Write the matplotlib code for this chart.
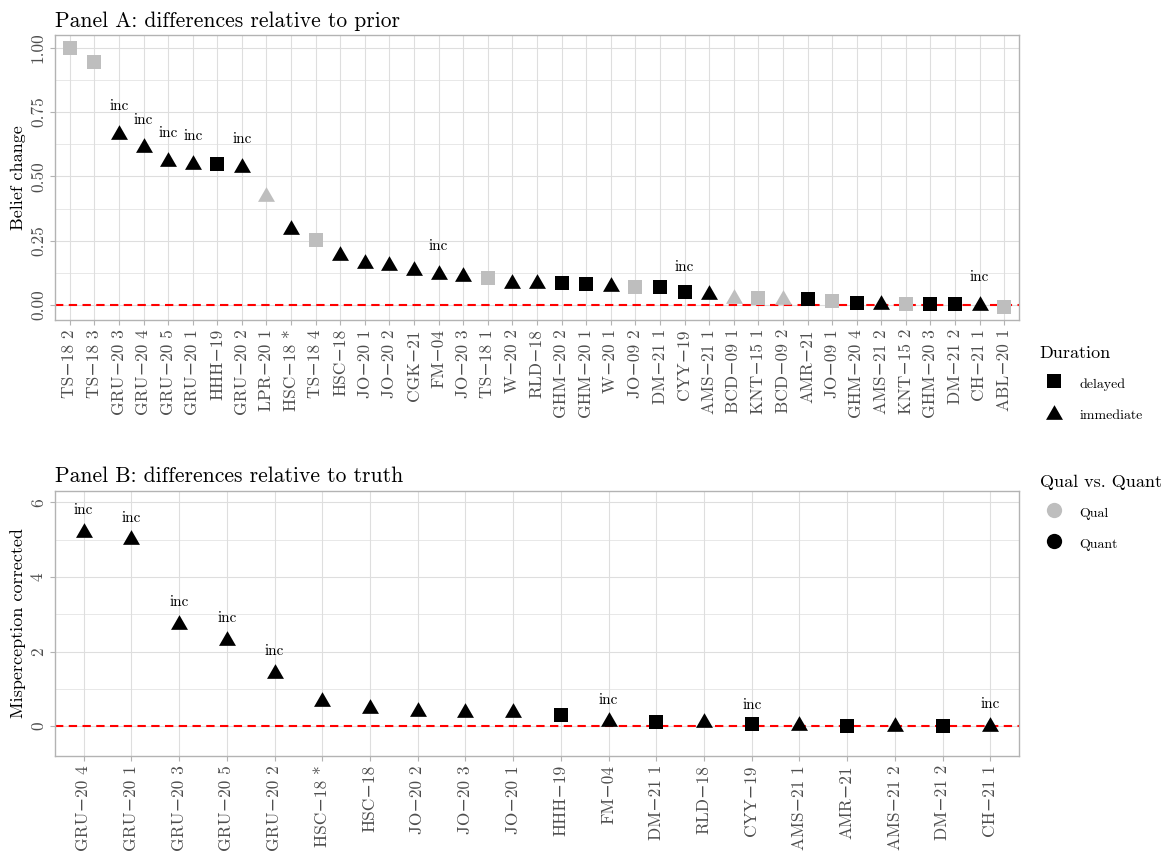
import matplotlib
matplotlib.use("Agg")
import matplotlib.pyplot as plt
from matplotlib.lines import Line2D
from matplotlib.ticker import MultipleLocator

plt.rcParams['font.family'] = ['cmr10', 'DejaVu Serif']
plt.rcParams['axes.formatter.use_mathtext'] = True
plt.rcParams['mathtext.fontset'] = 'cm'

M = "\u2212"

# ---------------- Panel A data ----------------
a_labels = ["TS-18 2", "TS-18 3", "GRU-20 3", "GRU-20 4", "GRU-20 5", "GRU-20 1", "HHH-19",
            "GRU-20 2", "LPR-20 1", "HSC-18 *", "TS-18 4", "HSC-18", "JO-20 1", "JO-20 2",
            "CGK-21", "FM-04", "JO-20 3", "TS-18 1", "W-20 2", "RLD-18", "GHM-20 2", "GHM-20 1",
            "W-20 1", "JO-09 2", "DM-21 1", "CYY-19", "AMS-21 1", "BCD-09 1", "KNT-15 1",
            "BCD-09 2", "AMR-21", "JO-09 1", "GHM-20 4", "AMS-21 2", "KNT-15 2", "GHM-20 3",
            "DM-21 2", "CH-21 1", "ABL-20 1"]
a_values = [1.00, 0.945, 0.672, 0.620, 0.568, 0.555, 0.547, 0.545, 0.431, 0.303, 0.253, 0.201,
            0.172, 0.163, 0.145, 0.128, 0.119, 0.104, 0.093, 0.093, 0.087, 0.080, 0.080, 0.071,
            0.069, 0.049, 0.051, 0.034, 0.026, 0.031, 0.023, 0.014, 0.007, 0.013, 0.003, 0.003,
            0.003, 0.007, -0.009]
a_duration = ["delayed", "delayed", "immediate", "immediate", "immediate", "immediate", "delayed",
              "immediate", "immediate", "immediate", "delayed", "immediate", "immediate", "immediate",
              "immediate", "immediate", "immediate", "delayed", "immediate", "immediate", "delayed",
              "delayed", "immediate", "delayed", "delayed", "delayed", "immediate", "immediate",
              "delayed", "immediate", "delayed", "delayed", "delayed", "immediate", "delayed",
              "delayed", "delayed", "immediate", "delayed"]
a_type = ["Qual", "Qual", "Quant", "Quant", "Quant", "Quant", "Quant", "Quant", "Qual", "Quant",
          "Qual", "Quant", "Quant", "Quant", "Quant", "Quant", "Quant", "Qual", "Quant", "Quant",
          "Quant", "Quant", "Quant", "Qual", "Quant", "Quant", "Quant", "Qual", "Qual", "Qual",
          "Quant", "Qual", "Quant", "Quant", "Qual", "Quant", "Quant", "Quant", "Qual"]
a_inc = ["GRU-20 3", "GRU-20 4", "GRU-20 5", "GRU-20 1", "GRU-20 2", "FM-04", "CYY-19", "CH-21 1"]

# ---------------- Panel B data ----------------
b_labels = ["GRU-20 4", "GRU-20 1", "GRU-20 3", "GRU-20 5", "GRU-20 2", "HSC-18 *", "HSC-18",
            "JO-20 2", "JO-20 3", "JO-20 1", "HHH-19", "FM-04", "DM-21 1", "RLD-18", "CYY-19",
            "AMS-21 1", "AMR-21", "AMS-21 2", "DM-21 2", "CH-21 1"]
b_values = [5.26, 5.06, 2.80, 2.37, 1.49, 0.74, 0.55, 0.46, 0.42, 0.42, 0.31, 0.18, 0.10, 0.16,
            0.045, 0.09, 0.01, 0.06, 0.01, 0.06]
b_duration = ["immediate", "immediate", "immediate", "immediate", "immediate", "immediate",
              "immediate", "immediate", "immediate", "immediate", "delayed", "immediate", "delayed",
              "immediate", "delayed", "immediate", "delayed", "immediate", "delayed", "immediate"]
b_type = ["Quant"] * 20
b_inc = ["GRU-20 4", "GRU-20 1", "GRU-20 3", "GRU-20 5", "GRU-20 2", "FM-04", "CYY-19", "CH-21 1"]

COLORS = {"Qual": "#BEBEBE", "Quant": "#000000"}
TRI = [(0, 0.866), (-1, -0.866), (1, -0.866)]
MARKERS = {"delayed": "s", "immediate": TRI}
MSIZE = {"delayed": 9.5, "immediate": 12.2}

GRID = "#DEDEDE"
BORDER = "#B3B3B3"
TICKC = "#4D4D4D"

W, H = 1167, 858
fig = plt.figure(figsize=(W / 100, H / 100), dpi=100)


def fx(px):
    return px / W


def fy(px):
    return 1 - px / H


def style_axes(ax, n, ylim, major, minor):
    ax.set_xlim(-0.6, n - 1 + 0.6)
    ax.set_ylim(*ylim)
    ax.yaxis.set_major_locator(MultipleLocator(major))
    ax.yaxis.set_minor_locator(MultipleLocator(minor))
    ax.set_axisbelow(True)
    ax.grid(True, which='major', axis='both', color=GRID, lw=0.8)
    ax.grid(True, which='minor', axis='y', color=GRID, lw=0.5)
    for s in ax.spines.values():
        s.set_color(BORDER)
        s.set_linewidth(1.0)
    ax.tick_params(axis='both', which='major', color=BORDER, length=3.5, width=0.8,
                   labelcolor=TICKC, labelsize=12.5, pad=3)
    ax.tick_params(axis='y', which='minor', length=0)
    ax.axhline(0, color='red', ls=(0, (4, 2.6)), lw=1.5, zorder=2)
    ax.set_facecolor('white')


def draw_points(ax, labels, values, duration, types, inc, dy, fontsize):
    xs = list(range(len(labels)))
    for x, v, d, t in zip(xs, values, duration, types):
        ax.plot([x], [v], ls='none', marker=MARKERS[d], markersize=MSIZE[d],
                color=COLORS[t], markeredgewidth=0, zorder=3)
    for x, lab, v in zip(xs, labels, values):
        if lab in inc:
            ax.text(x, v + dy, "inc", ha='center', va='center', fontsize=fontsize,
                    color='black', zorder=4)
    ax.set_xticks(xs)
    ax.set_xticklabels([l.replace("-", M) for l in labels], rotation=90, va='top')


# Panel A
axA = fig.add_axes([fx(55), fy(320), fx(1019) - fx(55), (320 - 35.3) / H])
style_axes(axA, len(a_labels), (-0.058, 1.048), 0.25, 0.125)
axA.yaxis.set_major_formatter(matplotlib.ticker.FuncFormatter(lambda v, p: f"{v:.2f}"))
draw_points(axA, a_labels, a_values, a_duration, a_type, a_inc, 0.10, 11)
for lab in axA.get_yticklabels():
    lab.set_rotation(90)
    lab.set_va('center')
axA.set_ylabel("Belief change", fontsize=13, labelpad=3)
axA.set_title("Panel A: differences relative to prior", loc='left', fontsize=15.5, pad=6)

# Panel B
axB = fig.add_axes([fx(55), fy(756), fx(1019) - fx(55), (756 - 490.7) / H])
style_axes(axB, len(b_labels), (-0.80, 6.31), 2, 1)
axB.yaxis.set_major_formatter(matplotlib.ticker.FuncFormatter(lambda v, p: f"{v:.0f}"))
draw_points(axB, b_labels, b_values, b_duration, b_type, b_inc, 0.52, 11)
for lab in axB.get_yticklabels():
    lab.set_rotation(90)
    lab.set_va('center')
axB.set_ylabel("Misperception corrected", fontsize=13, labelpad=3)
axB.set_title("Panel B: differences relative to truth", loc='left', fontsize=15.5, pad=6)

# Legends
common = dict(loc='upper left', frameon=False, alignment='left', fontsize=10,
              title_fontsize=13, handlelength=2.1, handletextpad=0.75, handleheight=1.6,
              labelspacing=0.95, borderaxespad=0)
dur_handles = [Line2D([], [], ls='none', marker=MARKERS[k], markersize=MSIZE[k], color='black',
                      markeredgewidth=0) for k in ["delayed", "immediate"]]
leg1 = fig.legend(dur_handles, ["delayed", "immediate"], title="Duration",
                  bbox_to_anchor=(fx(1034), fy(340)), **common)
typ_handles = [Line2D([], [], ls='none', marker='o', markersize=11, color=COLORS[k],
                      markeredgewidth=0) for k in ["Qual", "Quant"]]
leg2 = fig.legend(typ_handles, ["Qual", "Quant"], title="Qual vs. Quant",
                  bbox_to_anchor=(fx(1034), fy(469)), **common)

fig.savefig("out.png", dpi=100, facecolor='white')
